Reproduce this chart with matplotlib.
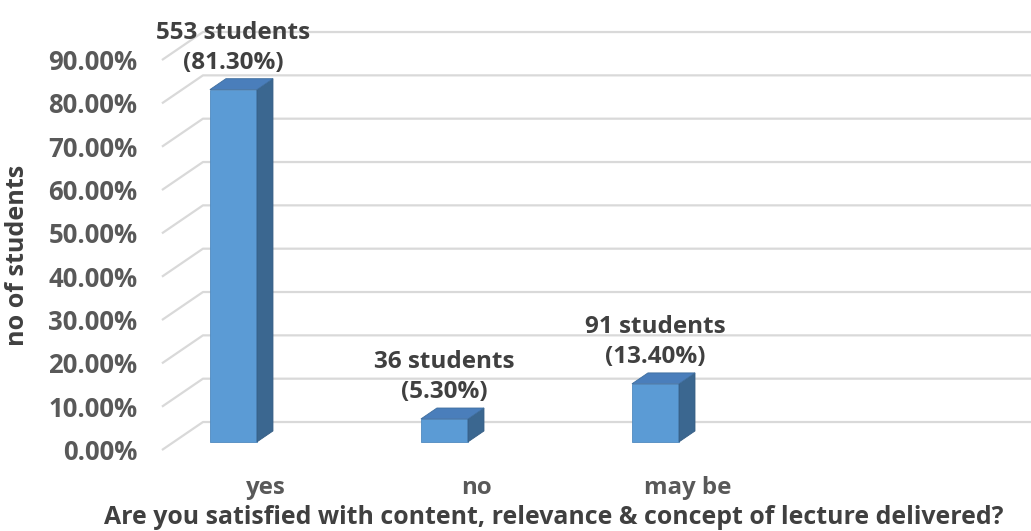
import matplotlib
matplotlib.use("Agg")
import matplotlib.pyplot as plt
from matplotlib.patches import Polygon

categories = ["yes", "no", "may be"]
percent_values = [81.30, 5.30, 13.40]
student_counts = [553, 36, 91]
tick_values = [0, 10, 20, 30, 40, 50, 60, 70, 80, 90]
x_title = "Are you satisfied with content, relevance & concept of lecture delivered?"
y_title = "no of students"

FONT = "Open Sans"
WT = "bold"
fig = plt.figure(figsize=(10.31, 5.31), dpi=100)
ax = fig.add_axes([0, 0, 1, 1])
ax.set_xlim(-1.050, 3.836)
ax.set_ylim(-18.69, 103.85)
ax.axis("off")

# oblique depth offsets (data units)
DX, DY = 0.1943, 6.46
d0, d1 = 0.29, 0.68
grid_left = -0.2825
xr = ax.get_xlim()[1]

grid_color = "#d9d9d9"
for v in tick_values:
    ax.plot([grid_left, grid_left + DX, xr], [v, v + DY, v + DY],
            color=grid_color, lw=1.6, solid_capstyle="butt", zorder=1)
    ax.text(-0.398, v - 0.6, f"{v:.2f}%", ha="right", va="center",
            fontsize=18.5, fontweight=WT, color="#595959", family=FONT)

front_c = "#5b9bd5"
side_c = "#3b6790"
top_c = "#4a7ebb"
w = 0.223
for i, (val, n) in enumerate(zip(percent_values, student_counts)):
    xc = i + d0 * DX
    xl, xrb = xc - w / 2, xc + w / 2
    b = d0 * DY
    t = b + val
    ddx, ddy = (d1 - d0) * DX, (d1 - d0) * DY
    ax.bar(xc, val, width=w, bottom=b, color=front_c, edgecolor="#4f8ac0",
           lw=0.6, zorder=3)
    ax.add_patch(Polygon([(xrb, b), (xrb + ddx, b + ddy), (xrb + ddx, t + ddy), (xrb, t)],
                         closed=True, fc=side_c, ec="#355d84", lw=0.6, zorder=3))
    ax.add_patch(Polygon([(xl, t), (xl + ddx, t + ddy), (xrb + ddx, t + ddy), (xrb, t)],
                         closed=True, fc=top_c, ec="#3f6e9e", lw=0.6, zorder=3))
    ax.annotate(f"{n} students\n({val:.2f}%)", xy=(xc, t + ddy), xytext=(0, 3),
                textcoords="offset points", ha="center", va="bottom",
                fontsize=17.5, fontweight=WT, color="#404040", family=FONT,
                linespacing=1.32, zorder=4)
    ax.text(i + 0.21, -8.8, categories[i], ha="center", va="center",
            fontsize=17.3, fontweight=WT, color="#595959", family=FONT)

fig.text(554 / 1031, 1 - 517 / 531, x_title, ha="center", va="center",
         fontsize=17.9, fontweight=WT, color="#404040", family=FONT)
fig.text(18 / 1031, 1 - 255 / 531, y_title, ha="center", va="center", rotation=90,
         fontsize=18.1, fontweight=WT, color="#404040", family=FONT)

fig.savefig("out.png", dpi=100)
